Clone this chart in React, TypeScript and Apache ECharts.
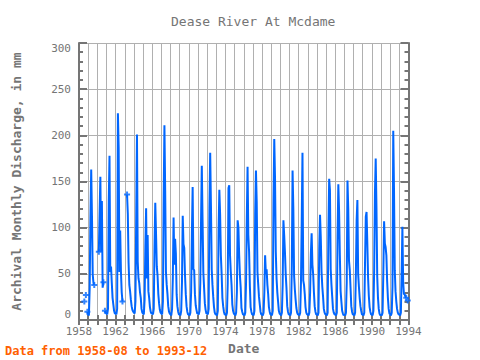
import React, { useEffect, useRef } from "react";
import * as echarts from "echarts";

const firstYear = 1958;
const tickYears = [1958, 1962, 1966, 1970, 1974, 1978, 1982, 1986, 1990, 1994];

// monthly discharge (mm), one row per year, Jan..Dec (null = missing)
const flows1958to1967: (number | null)[][] = [
  [null, null, null, null, null, null, null, 20, null, 27, null, 9],
  [6, 5, 35, 111, 163, 113, 49, 40, 38, null, null, null],
  [null, null, 74, 115, 155, 74, 129, 35, 41, null, 10, 8],
  [7, 6, 12, 128, 178, 52, 58, 40, 24, 17, 10, 7],
  [7, 6, 12, 224, 187, 52, 97, 52, 30, 20, null, null],
  [null, null, null, 136, 115, 62, 38, 31, 22, 15, 11, 9],
  [8, 7, 20, 111, 201, 63, 45, 40, 30, 24, 12, 8],
  [7, 6, 22, 79, 121, 45, 92, 31, 24, 14, 9, 7],
  [7, 6, 12, 79, 127, 93, 58, 48, 28, 18, 11, 8],
  [7, 6, 20, 132, 211, 140, 52, 38, 28, 15, 9, 7],
];
const flows1968to1977: (number | null)[][] = [
  [6, 5, 12, 45, 111, 60, 88, 72, 28, 15, 9, 6],
  [6, 5, 10, 40, 113, 82, 78, 48, 28, 15, 9, 6],
  [6, 5, 8, 30, 93, 144, 55, 54, 28, 16, 11, 7],
  [7, 6, 10, 40, 107, 167, 108, 52, 35, 18, 11, 7],
  [7, 6, 12, 121, 181, 124, 55, 38, 25, 14, 8, 6],
  [6, 5, 10, 97, 141, 115, 70, 50, 24, 15, 9, 6],
  [6, 5, 8, 40, 143, 146, 70, 52, 38, 17, 10, 7],
  [6, 5, 8, 30, 108, 100, 70, 48, 35, 13, 9, 6],
  [6, 5, 8, 40, 110, 166, 92, 74, 37, 14, 9, 6],
  [6, 5, 10, 115, 162, 128, 52, 38, 25, 17, 9, 6],
];
const flows1978to1987: (number | null)[][] = [
  [6, 5, 8, 30, 70, 50, 55, 38, 28, 14, 9, 6],
  [6, 5, 10, 130, 196, 154, 74, 45, 30, 20, 10, 7],
  [6, 5, 8, 38, 108, 92, 74, 50, 35, 15, 9, 6],
  [6, 5, 8, 58, 162, 121, 48, 33, 22, 13, 8, 6],
  [6, 5, 8, 40, 106, 181, 43, 38, 28, 14, 8, 6],
  [6, 5, 8, 30, 72, 94, 60, 50, 30, 15, 9, 6],
  [6, 5, 8, 78, 114, 89, 52, 36, 25, 12, 8, 6],
  [6, 5, 8, 97, 153, 141, 55, 38, 25, 12, 8, 6],
  [6, 5, 8, 92, 147, 118, 70, 31, 20, 10, 7, 5],
  [6, 5, 8, 40, 151, 121, 64, 54, 35, 15, 9, 6],
];
const flows1988to1993: (number | null)[][] = [
  [6, 5, 8, 50, 108, 130, 50, 36, 24, 15, 10, 6],
  [6, 5, 8, 62, 112, 117, 84, 46, 26, 14, 9, 6],
  [6, 5, 10, 55, 137, 175, 121, 47, 24, 12, 7, 5],
  [6, 5, 8, 52, 107, 83, 79, 70, 42, 24, 12, 7],
  [6, 5, 8, 36, 205, 140, 54, 31, 20, 12, 8, 6],
  [6, 5, 8, 50, 101, 41, 28, 28, 25, 24, null, 21],
];

const allRows = [...flows1958to1967, ...flows1968to1977, ...flows1978to1987, ...flows1988to1993];

const FONT = "DejaVu Sans Mono";
const GRAY = "#757575";
const BLUE = "#0066ff";

export default function App() {
  const ref = useRef<HTMLDivElement>(null);
  useEffect(() => {
    if (!ref.current) return;
    const chart = echarts.init(ref.current, undefined, { renderer: "svg" });

    const flat: { t: number; v: number | null }[] = [];
    allRows.forEach((row, yi) => {
      row.forEach((v, m) => flat.push({ t: firstYear + yi + m / 12, v }));
    });
    const lineData = flat.map((p) => [p.t, p.v === null ? "-" : p.v]);
    const markData: number[][] = [];
    flat.forEach((p, i) => {
      if (p.v === null) return;
      const prev = i > 0 ? flat[i - 1].v : null;
      const next = i < flat.length - 1 ? flat[i + 1].v : null;
      if (prev === null || next === null) markData.push([p.t, p.v]);
    });

    const axisLine = { show: true, lineStyle: { color: GRAY, width: 2 } };
    const labelStyle = { color: GRAY, fontFamily: FONT, fontSize: 11 };

    chart.setOption({
      animation: false,
      backgroundColor: "#ffffff",
      title: {
        text: "Dease River At Mcdame",
        left: 166,
        top: 10,
        textStyle: { color: GRAY, fontFamily: FONT, fontSize: 13, fontWeight: "normal" },
      },
      grid: { left: 79, right: 71.5, top: 43, bottom: 38, containLabel: false },
      xAxis: [
        {
          type: "value",
          min: 1958,
          max: 1994,
          interval: 1,
          position: "bottom",
          axisLine,
          axisTick: { show: true, inside: true, length: 5, lineStyle: { color: GRAY, width: 2 } },
          axisLabel: {
            ...labelStyle,
            margin: 6,
            showMinLabel: true,
            showMaxLabel: true,
            formatter: (v: number) => (tickYears.indexOf(Math.round(v)) >= 0 ? String(Math.round(v)) : ""),
          },
          splitLine: { show: true, lineStyle: { color: "#b0b0b0", width: 1 } },
          name: "Date",
          nameLocation: "middle",
          nameGap: 22,
          nameTextStyle: { color: GRAY, fontFamily: FONT, fontSize: 13, fontWeight: "bold" },
        },
        {
          type: "value",
          min: 1958,
          max: 1994,
          interval: 1,
          position: "top",
          axisLine,
          axisTick: { show: true, inside: true, length: 5, lineStyle: { color: GRAY, width: 2 } },
          axisLabel: { show: false },
          splitLine: { show: false },
        },
      ],
      yAxis: [
        {
          type: "value",
          min: 0,
          max: 300,
          interval: 50,
          position: "left",
          axisLine,
          axisTick: { show: true, inside: true, length: 8, lineStyle: { color: GRAY, width: 2 } },
          minorTick: { show: true, splitNumber: 5, length: 4, lineStyle: { color: GRAY, width: 2 } },
          axisLabel: {
            ...labelStyle,
            margin: 8,
            verticalAlignMinLabel: "bottom",
            verticalAlignMaxLabel: "top",
          },
          splitLine: { show: true, lineStyle: { color: "#b0b0b0", width: 1 } },
          name: "Archival Monthly Discharge, in mm",
          nameLocation: "middle",
          nameGap: 56,
          nameTextStyle: { color: GRAY, fontFamily: FONT, fontSize: 13, fontWeight: "bold" },
        },
        {
          type: "value",
          min: 0,
          max: 300,
          interval: 50,
          position: "right",
          axisLine,
          axisTick: { show: true, inside: true, length: 8, lineStyle: { color: GRAY, width: 2 } },
          minorTick: { show: true, splitNumber: 5, length: 4, lineStyle: { color: GRAY, width: 2 } },
          axisLabel: { show: false },
          splitLine: { show: false },
        },
      ],
      graphic: [
        {
          type: "text",
          left: 5,
          top: 345,
          style: {
            text: "Data from 1958-08 to 1993-12",
            fill: "#ff6000",
            font: `bold 12px "${FONT}"`,
          },
        },
      ],
      series: [
        {
          type: "line",
          data: lineData,
          xAxisIndex: 0,
          yAxisIndex: 0,
          showSymbol: false,
          connectNulls: false,
          lineStyle: { color: BLUE, width: 2 },
          itemStyle: { color: BLUE },
          z: 3,
        },
        {
          type: "scatter",
          data: markData,
          xAxisIndex: 0,
          yAxisIndex: 0,
          symbol: "path://M2,0H4V2H6V4H4V6H2V4H0V2H2Z",
          symbolSize: 6,
          itemStyle: { color: BLUE },
          z: 4,
        },
      ],
    });
    return () => chart.dispose();
  }, []);
  return (
    <div
      ref={ref}
      style={{ position: "fixed", left: 0, top: 0, width: 480, height: 360, background: "#fff" }}
    />
  );
}
